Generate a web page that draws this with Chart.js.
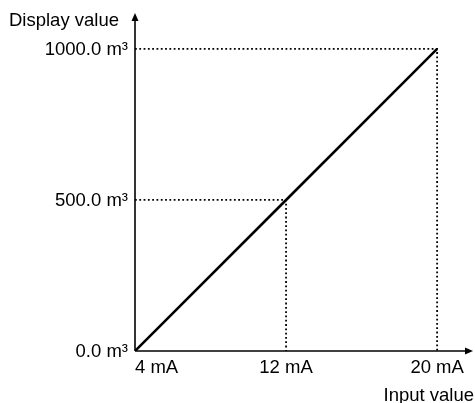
<!DOCTYPE html>
<html>
<head>
<meta charset="utf-8">
<script src="https://cdn.jsdelivr.net/npm/chart.js@4/dist/chart.umd.min.js"></script>
<style>
    html, body { margin: 0; padding: 0; background: #fff; }
    #wrap { width: 475px; height: 403px; position: relative; }
</style>
</head>
<body>
<div id="wrap"><canvas id="chart"></canvas></div>
<script>
// Data
const inputValues = [4, 12, 20];          // mA
const displayValues = [0, 500, 1000];     // m³
const xTickLabels = ['4 mA', '12 mA', '20 mA'];
const yTickLabels = ['0.0 m³', '500.0 m³', '1000.0 m³'];
const xTitle = 'Input value';
const yTitle = 'Display value';

const FONT = '18.5px "Liberation Sans", Arial, sans-serif';

// Main line
const mainLine = inputValues.map((x, i) => ({ x: x, y: displayValues[i] }));

// Dotted guide lines for every point above zero
const guideSets = [];
inputValues.forEach((x, i) => {
    if (displayValues[i] === 0) return;
    guideSets.push({
        data: [
            { x: inputValues[0], y: displayValues[i] },
            { x: x, y: displayValues[i] },
            { x: x, y: displayValues[0] }
        ],
        showLine: true,
        borderColor: '#000',
        borderWidth: 1.8,
        borderDash: [1.8, 2.5],
        pointRadius: 0,
        fill: false,
        order: 2
    });
});

// Axes with arrowheads, tick labels and titles
const axesPlugin = {
    id: 'axesPlugin',
    afterDatasetsDraw(chart) {
        const ctx = chart.ctx;
        const xs = chart.scales.x;
        const ys = chart.scales.y;
        const area = chart.chartArea;
        const x0 = xs.getPixelForValue(inputValues[0]);
        const y0 = ys.getPixelForValue(displayValues[0]);

        ctx.save();
        ctx.strokeStyle = '#000';
        ctx.fillStyle = '#000';
        ctx.lineWidth = 1.6;

        // y axis
        ctx.beginPath();
        ctx.moveTo(x0, y0);
        ctx.lineTo(x0, area.top + 6);
        ctx.stroke();
        ctx.beginPath();
        ctx.moveTo(x0, area.top);
        ctx.lineTo(x0 - 3.5, area.top + 8);
        ctx.lineTo(x0 + 3.5, area.top + 8);
        ctx.closePath();
        ctx.fill();

        // x axis
        ctx.beginPath();
        ctx.moveTo(x0, y0);
        ctx.lineTo(area.right - 6, y0);
        ctx.stroke();
        ctx.beginPath();
        ctx.moveTo(area.right, y0);
        ctx.lineTo(area.right - 8, y0 - 3.5);
        ctx.lineTo(area.right - 8, y0 + 3.5);
        ctx.closePath();
        ctx.fill();

        ctx.font = FONT;
        ctx.textBaseline = 'middle';

        // x tick labels
        inputValues.forEach((v, i) => {
            ctx.textAlign = i === 0 ? 'left' : 'center';
            ctx.fillText(xTickLabels[i], xs.getPixelForValue(v), y0 + 17);
        });

        // y tick labels
        ctx.textAlign = 'right';
        displayValues.forEach((v, i) => {
            ctx.fillText(yTickLabels[i], x0 - 7, ys.getPixelForValue(v) + 1);
        });

        // titles
        ctx.textAlign = 'left';
        ctx.fillText(yTitle, 9, 21);
        ctx.textAlign = 'right';
        ctx.fillText(xTitle, area.right + 1, y0 + 45);

        ctx.restore();
    }
};

new Chart(document.getElementById('chart'), {
    type: 'scatter',
    data: {
        datasets: [
            {
                data: mainLine,
                showLine: true,
                borderColor: '#000',
                borderWidth: 2.6,
                pointRadius: 0,
                fill: false,
                order: 1
            },
            ...guideSets
        ]
    },
    options: {
        responsive: true,
        maintainAspectRatio: false,
        animation: false,
        layout: {
            padding: { left: 135, right: 2, top: 13, bottom: 52 }
        },
        plugins: {
            legend: { display: false },
            tooltip: { enabled: false }
        },
        scales: {
            x: { type: 'linear', display: false, min: 4, max: 21.9 },
            y: { type: 'linear', display: false, min: 0, max: 1119 }
        }
    },
    plugins: [axesPlugin]
});
</script>
</body>
</html>
